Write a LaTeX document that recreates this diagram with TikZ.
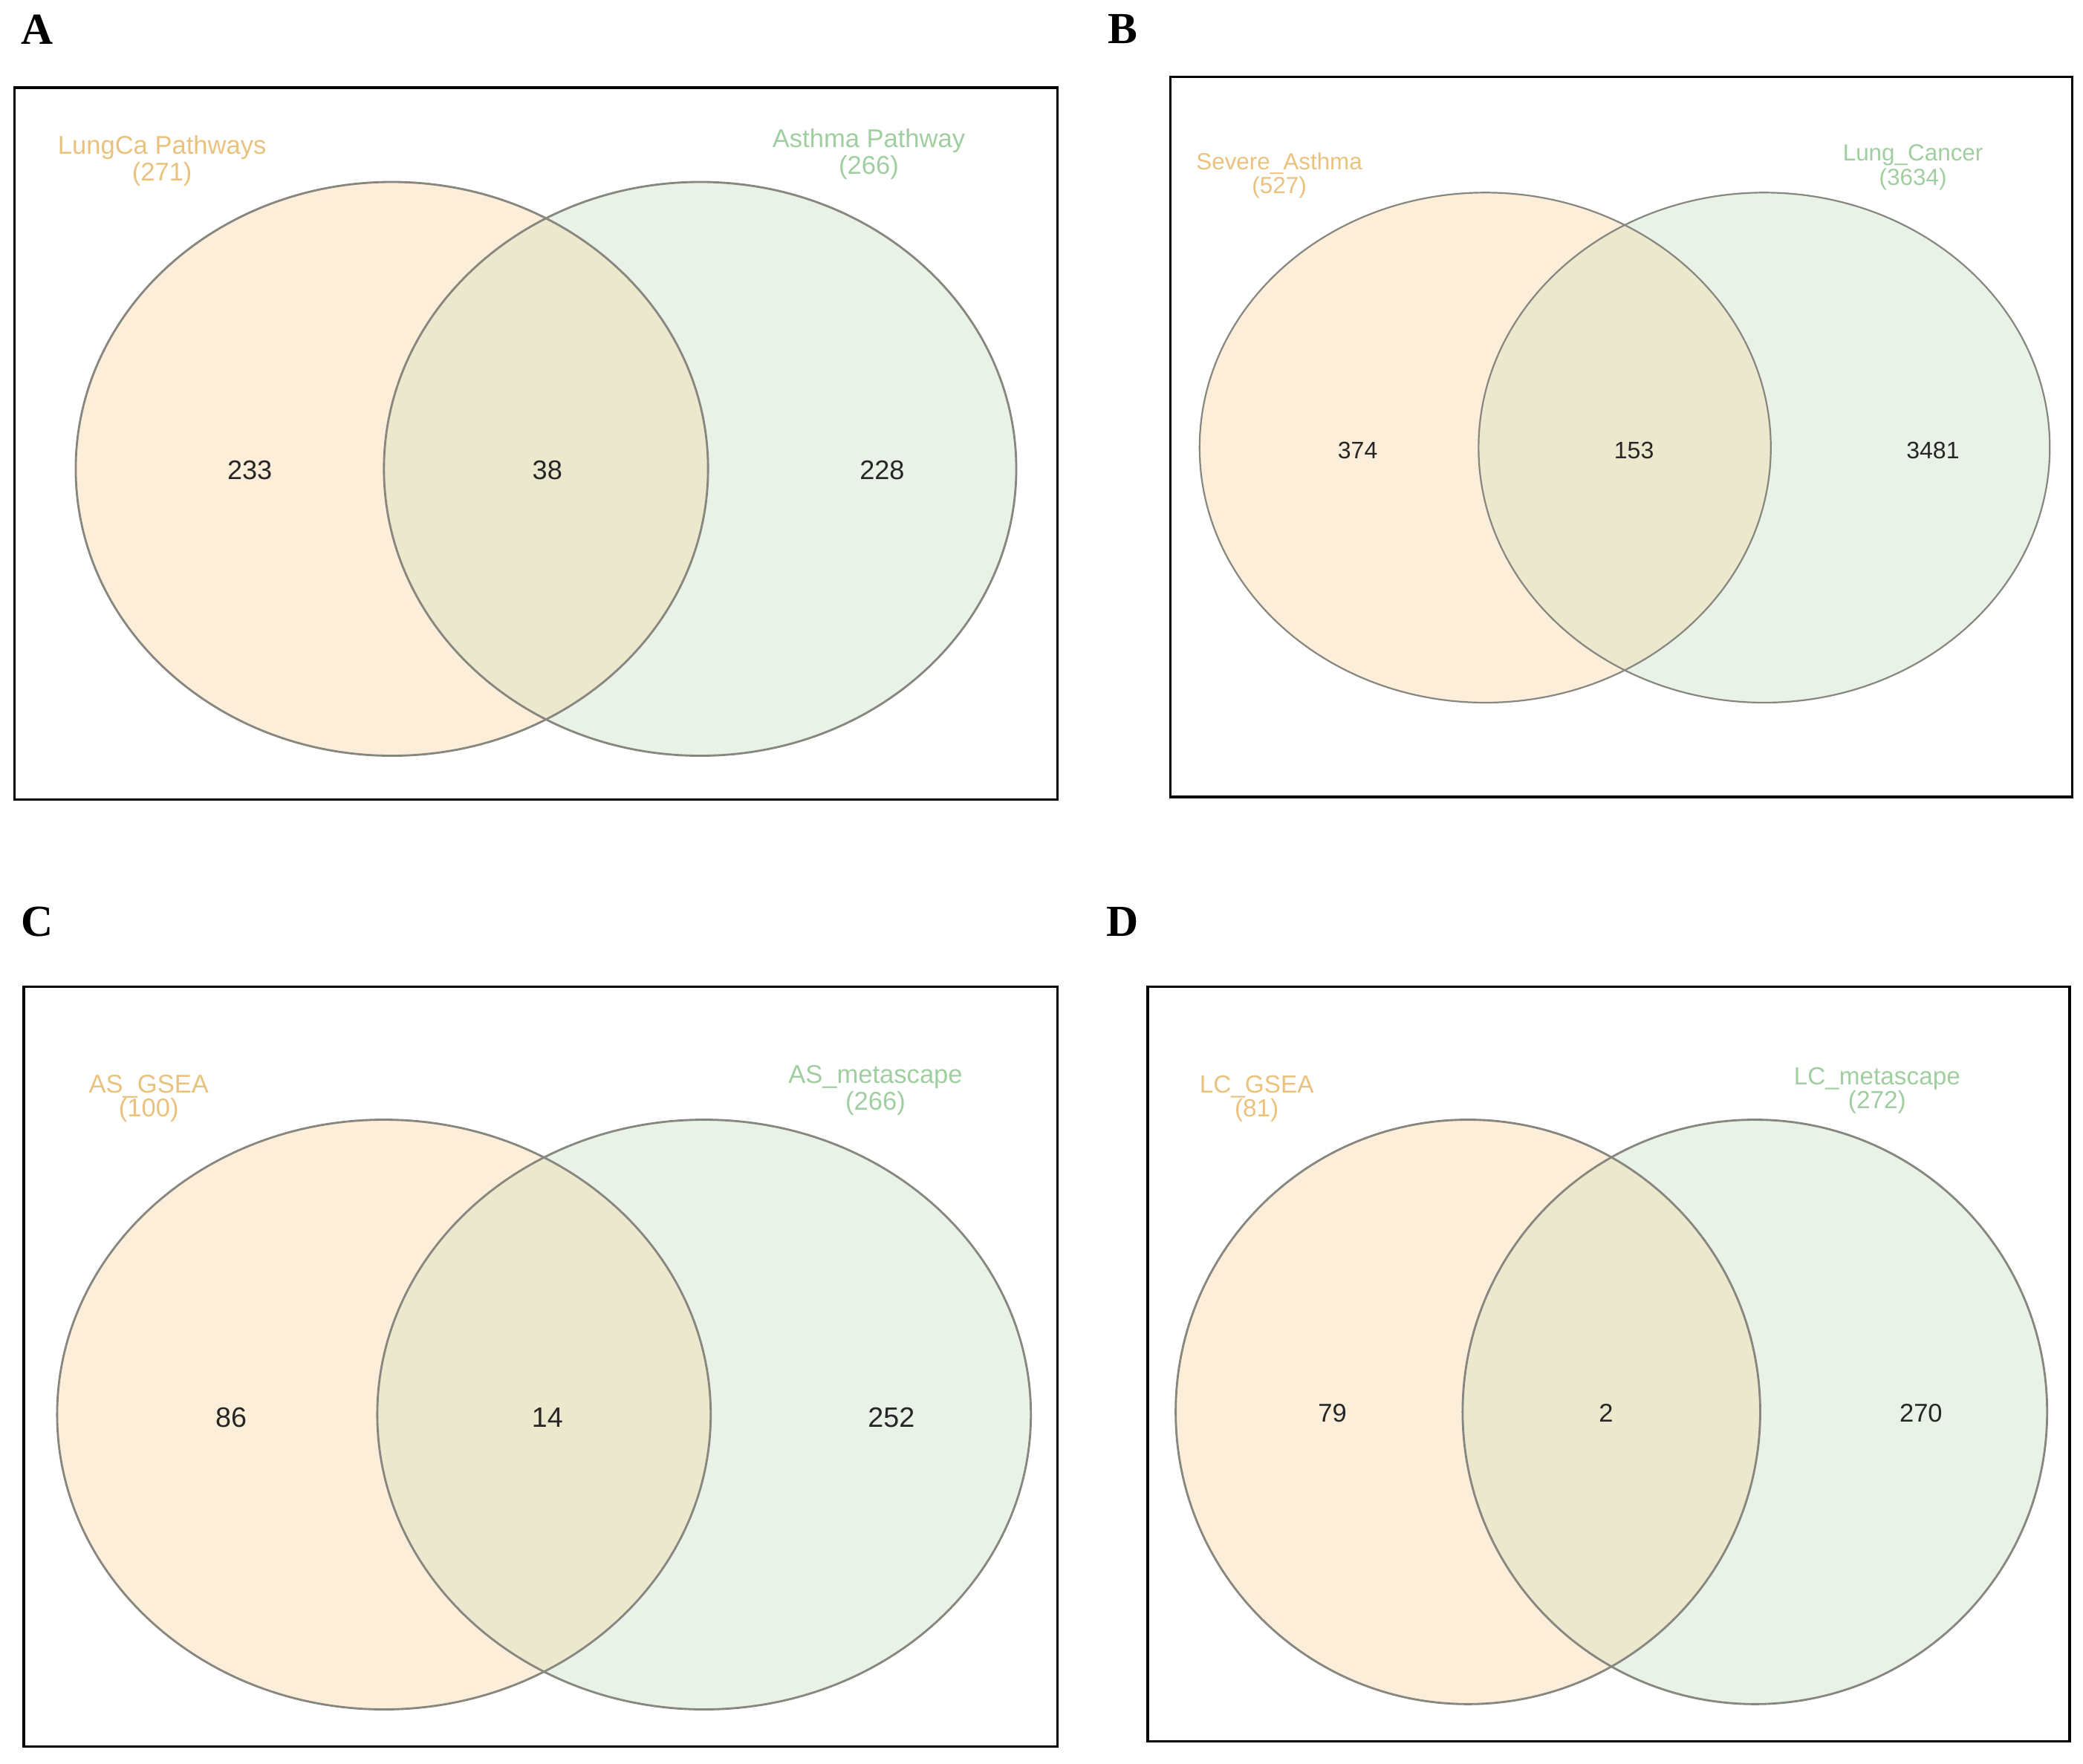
\documentclass[tikz,border=0pt]{standalone}
\usepackage{fontspec}
\setmainfont{Liberation Serif}
\setsansfont{Liberation Sans}
\usepackage{tikz}
\usetikzlibrary{positioning}

\definecolor{vennpeach}{RGB}{253,238,218}
\definecolor{venngreen}{RGB}{233,242,230}
\definecolor{vennmix}{RGB}{236,232,206}
\definecolor{vennline}{RGB}{135,135,128}
\definecolor{labpeach}{RGB}{234,194,126}
\definecolor{labgreen}{RGB}{160,206,160}

\tikzset{
	panelbox/.style={draw=black, line width=1.1pt},
	vennedge/.style={draw=vennline, line width=0.9pt},
	letter/.style={font=\fontsize{19}{22}\selectfont\bfseries, inner sep=0pt},
	setname/.style={font=\sffamily, align=center, inner sep=0pt},
	count/.style={font=\sffamily, text=black!85, inner sep=0pt}
}

\begin{document}
\begin{tikzpicture}[x=0.02cm, y=-0.02cm]
	
	\useasboundingbox (0,0) rectangle (1568,1328);
	
	%//panel A
	\def\cxa{295} \def\cxb{527} \def\cy{353} \def\rx{238} \def\ry{216}
	\fill[vennpeach] (\cxa,\cy) ellipse [x radius=\rx, y radius=\ry];
	\fill[venngreen] (\cxb,\cy) ellipse [x radius=\rx, y radius=\ry];
	\begin{scope}
		\clip (\cxa,\cy) ellipse [x radius=\rx, y radius=\ry];
		\fill[vennmix] (\cxb,\cy) ellipse [x radius=\rx, y radius=\ry];
	\end{scope}
	\draw[vennedge] (\cxa,\cy) ellipse [x radius=\rx, y radius=\ry];
	\draw[vennedge] (\cxb,\cy) ellipse [x radius=\rx, y radius=\ry];
	\draw[panelbox] (11,66) rectangle (796,602);
	\node[letter] (letA) at (28,22) {A};
	\node[setname, text=labpeach, font=\sffamily\fontsize{11}{10.2}\selectfont] (leftA) at (122,121) {LungCa Pathways\\(271)};
	\node[setname, text=labgreen, font=\sffamily\fontsize{11}{10.2}\selectfont] (rightA) at (654,116) {Asthma Pathway\\(266)};
	\foreach \x/\val [count=\i] in {188/233, 412/38, 664/228}
	\node[count, font=\sffamily\fontsize{11.5}{13}\selectfont] (numA\i) at (\x, 354) {\val};
	
	%//panel B
	\def\cxa{1118} \def\cxb{1328} \def\cy{337} \def\rx{215} \def\ry{192}
	\fill[vennpeach] (\cxa,\cy) ellipse [x radius=\rx, y radius=\ry];
	\fill[venngreen] (\cxb,\cy) ellipse [x radius=\rx, y radius=\ry];
	\begin{scope}
		\clip (\cxa,\cy) ellipse [x radius=\rx, y radius=\ry];
		\fill[vennmix] (\cxb,\cy) ellipse [x radius=\rx, y radius=\ry];
	\end{scope}
	\draw[vennedge, line width=0.7pt] (\cxa,\cy) ellipse [x radius=\rx, y radius=\ry];
	\draw[vennedge, line width=0.7pt] (\cxb,\cy) ellipse [x radius=\rx, y radius=\ry];
	\draw[panelbox] (881,58) rectangle (1560,600);
	\node[letter] (letB) at (845,22) {B};
	\node[setname, text=labpeach, font=\sffamily\fontsize{10}{9}\selectfont] (leftB) at (963,132) {Severe\_Asthma\\(527)};
	\node[setname, text=labgreen, font=\sffamily\fontsize{10}{9}\selectfont] (rightB) at (1440,126) {Lung\_Cancer\\(3634)};
	\foreach \x/\val [count=\i] in {1022/374, 1230/153, 1455/3481}
	\node[count, font=\sffamily\fontsize{10.2}{12}\selectfont] (numB\i) at (\x, 339) {\val};
	
	%//panel C
	\def\cxa{289} \def\cxb{530} \def\cy{1065} \def\rx{246} \def\ry{222}
	\fill[vennpeach] (\cxa,\cy) ellipse [x radius=\rx, y radius=\ry];
	\fill[venngreen] (\cxb,\cy) ellipse [x radius=\rx, y radius=\ry];
	\begin{scope}
		\clip (\cxa,\cy) ellipse [x radius=\rx, y radius=\ry];
		\fill[vennmix] (\cxb,\cy) ellipse [x radius=\rx, y radius=\ry];
	\end{scope}
	\draw[vennedge] (\cxa,\cy) ellipse [x radius=\rx, y radius=\ry];
	\draw[vennedge] (\cxb,\cy) ellipse [x radius=\rx, y radius=\ry];
	\draw[panelbox] (18,743) rectangle (796,1315);
	\node[letter] (letC) at (28,694) {C};
	\node[setname, text=labpeach, font=\sffamily\fontsize{11}{10.2}\selectfont] (leftC) at (112,827) {AS\_GSEA\\(100)};
	\node[setname, text=labgreen, font=\sffamily\fontsize{11}{10.2}\selectfont] (rightC) at (659,821) {AS\_metascape\\(266)};
	\foreach \x/\val [count=\i] in {174/86, 412/14, 671/252}
	\node[count, font=\sffamily\fontsize{12}{14}\selectfont] (numC\i) at (\x, 1067) {\val};
	
	%//panel D
	\def\cxa{1105} \def\cxb{1321} \def\cy{1063} \def\rx{220} \def\ry{220}
	\fill[vennpeach] (\cxa,\cy) ellipse [x radius=\rx, y radius=\ry];
	\fill[venngreen] (\cxb,\cy) ellipse [x radius=\rx, y radius=\ry];
	\begin{scope}
		\clip (\cxa,\cy) ellipse [x radius=\rx, y radius=\ry];
		\fill[vennmix] (\cxb,\cy) ellipse [x radius=\rx, y radius=\ry];
	\end{scope}
	\draw[vennedge] (\cxa,\cy) ellipse [x radius=\rx, y radius=\ry];
	\draw[vennedge] (\cxb,\cy) ellipse [x radius=\rx, y radius=\ry];
	\draw[panelbox] (864,743) rectangle (1558,1311);
	\node[letter] (letD) at (845,694) {D};
	\node[setname, text=labpeach, font=\sffamily\fontsize{10.6}{10.2}\selectfont] (leftD) at (946,827) {LC\_GSEA\\(81)};
	\node[setname, text=labgreen, font=\sffamily\fontsize{10.6}{10.2}\selectfont] (rightD) at (1413,821) {LC\_metascape\\(272)};
	\foreach \x/\val [count=\i] in {1003/79, 1209/2, 1446/270}
	\node[count, font=\sffamily\fontsize{11}{13}\selectfont] (numD\i) at (\x, 1064) {\val};
	
\end{tikzpicture}
\end{document}
